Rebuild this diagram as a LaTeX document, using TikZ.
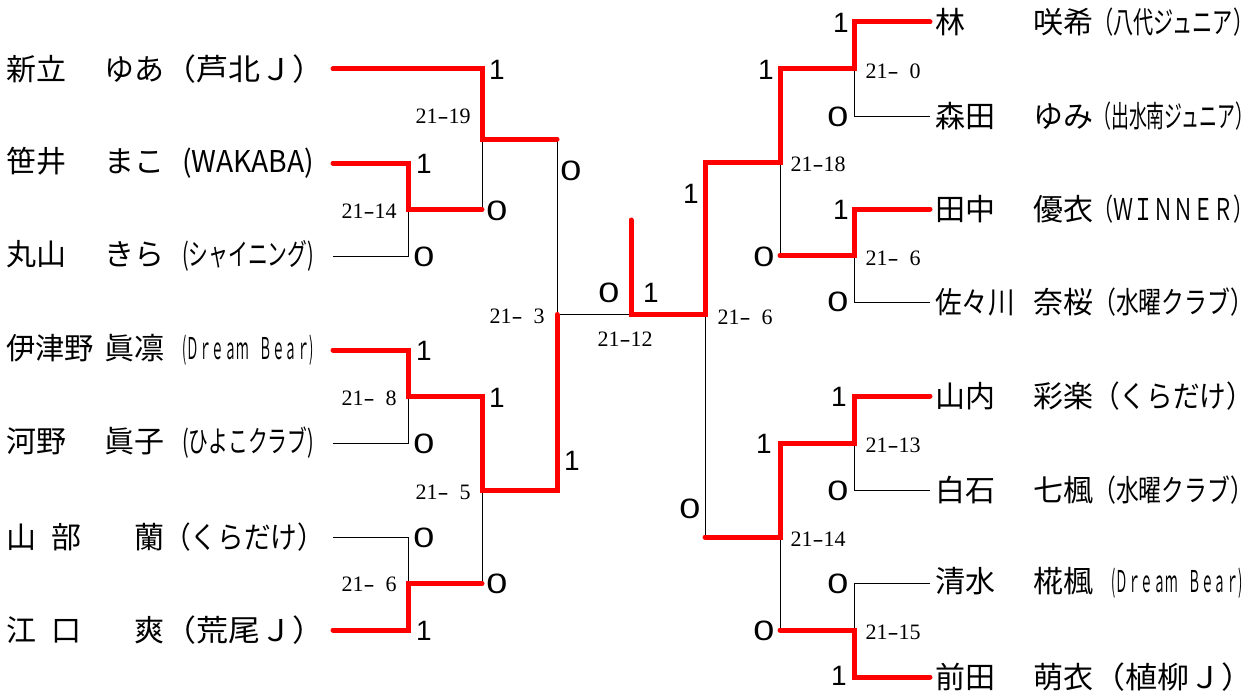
\documentclass[tikz,border=0pt]{standalone}
\usepackage{fontspec}
\usepackage{graphicx}
\newfontfamily\jp{Noto Sans CJK JP}
\newfontfamily\digf{Liberation Sans}
\newfontfamily\scf{Liberation Serif}
% player name: surname, given name, club (full-width parentheses)
\newcommand{\pn}[3]{\makebox[98pt][l]{#1}\makebox[60pt][r]{#2}\resizebox{160pt}{\height}{#3}}
% player name with half-width parenthesised club
\newcommand{\pnh}[3]{\makebox[98pt][l]{#1}\makebox[60pt][r]{#2}\hspace{18pt}\resizebox{132pt}{\height}{#3}}
\newcommand{\sco}[1]{21\makebox[11pt]{\scalebox{1.5}[1]{-}}\makebox[22pt][r]{#1}}
\newcommand{\zr}{\scalebox{1.35}[1]{0}}
\newcommand{\narrow}[2]{\resizebox{#1}{\height}{#2}}
\tikzset{
  win/.style={draw=red, line width=5pt, line cap=round, line join=miter},
  lose/.style={draw=black, line width=1pt},
  pname/.style={anchor=west, inner sep=0pt, font=\jp\fontsize{30}{30}\selectfont},
  pts/.style={inner sep=0pt, font=\digf\fontsize{28}{28}\selectfont},
  slab/.style={inner sep=0pt, font=\scf\fontsize{22}{22}\selectfont},
}
\begin{document}
\begin{tikzpicture}[x=1pt,y=-1pt]
\fill[white] (0,0) rectangle (1256,693);
\useasboundingbox (0,0) rectangle (1256,693);

% ---------- players, left ----------
\node[pname] (L1) at (6,69)  {\pn{新立}{ゆあ}{（芦北Ｊ）}};
\node[pname] (L2) at (6,163) {\pnh{笹井}{まこ}{(WAKABA)}};
\node[pname] (L3) at (6,256) {\pnh{丸山}{きら}{(シャイニング)}};
\node[pname] (L4) at (6,350) {\pnh{\narrow{88pt}{伊津野}}{眞凛}{(Ｄｒｅａｍ\hspace{0.8em}Ｂｅａｒ)}};
\node[pname] (L5) at (6,443) {\pnh{河野}{眞子}{(ひよこクラブ)}};
\node[pname] (L6) at (6,537) {\pn{山\hspace{15pt}部}{蘭}{（くらだけ）}};
\node[pname] (L7) at (6,630) {\pn{江\hspace{15pt}口}{爽}{（荒尾Ｊ）}};

% ---------- players, right ----------
\node[pname] (R1) at (935,22)  {\pn{林}{咲希}{（八代ジュニア）}};
\node[pname] (R2) at (935,116) {\pn{森田}{ゆみ}{（出水南ジュニア）}};
\node[pname] (R3) at (935,209) {\pn{田中}{優衣}{（ＷＩＮＮＥＲ）}};
\node[pname] (R4) at (935,302) {\pn{\narrow{80pt}{佐々川}}{奈桜}{（水曜クラブ）}};
\node[pname] (R5) at (935,396) {\pn{山内}{彩楽}{（くらだけ）}};
\node[pname] (R6) at (935,490) {\pn{白石}{七楓}{（水曜クラブ）}};
\node[pname] (R7) at (935,583) {\pnh{清水}{椛楓}{(Ｄｒｅａｍ\hspace{0.8em}Ｂｅａｒ)}};
\node[pname] (R8) at (935,677) {\pn{前田}{萌衣}{（植柳Ｊ）}};

% ---------- line ends and junctions ----------
\coordinate (s1) at (333,69);
\coordinate (s2) at (333,163);
\coordinate (s3) at (333,256);
\coordinate (s4) at (333,350);
\coordinate (s5) at (333,443);
\coordinate (s6) at (333,537);
\coordinate (s7) at (333,630);
\coordinate (j23) at (408,209.5);
\coordinate (j45) at (408,396.5);
\coordinate (j67) at (408,583.5);
\coordinate (j123) at (482,139);
\coordinate (j4567) at (482,490);
\coordinate (jl) at (557,314.5);
\coordinate (c) at (631,314.5);
\coordinate (ctop) at (631,220);
\coordinate (jr) at (705,314.5);
\foreach \i in {1,...,8} { \coordinate (e\i) at ([xshift=-5pt]R\i.west); }
\coordinate (k12) at (854,69);
\coordinate (k34) at (854,255.5);
\coordinate (k56) at (854,443);
\coordinate (k78) at (854,630);
\coordinate (k1234) at (780,162);
\coordinate (k5678) at (780,537);

% ---------- losing (thin) lines ----------
\draw[lose] (s3) -| (j23);
\draw[lose] (j123) -- (j123 |- j23);
\draw[lose] (s5) -| (j45);
\draw[lose] (s6) -| (j67);
\draw[lose] (j4567) -- (j4567 |- j67);
\draw[lose] (j123 -| jl) -- (jl) -- (c);
\draw[lose] (k12) -- (k12 |- e2) -- (e2);
\draw[lose] (k1234) -- (k1234 |- k34);
\draw[lose] (k34) -- (k34 |- e4) -- (e4);
\draw[lose] (jr) -- (jr |- k5678);
\draw[lose] (k56) -- (k56 |- e6) -- (e6);
\draw[lose] (k5678) -- (k5678 |- k78);
\draw[lose] (k78) -- (k78 |- e7) -- (e7);

% ---------- winning (red) lines ----------
\draw[win] (s1) -| (j123) -- (j123 -| jl);
\draw[win] (s2) -| (j23) -- (j23 -| j123);
\draw[win] (s4) -| (j45) -- (j45 -| j4567) -- (j4567) -- (j4567 -| jl) -- (jl);
\draw[win] (s7) -| (j67) -- (j67 -| j4567);
\draw[win] (ctop) -- (c) -- (jr) -- (jr |- k1234) -- (k1234) -- (k1234 |- k12) -- (k12) -- (k12 |- e1) -- (e1);
\draw[win] (e3) -- (e3 -| k34) -- (k34) -- (k34 -| k1234);
\draw[win] (e5) -- (e5 -| k56) -- (k56) -- (k56 -| k5678) -- (k5678) -- (k5678 -| jr);
\draw[win] (e8) -- (e8 -| k78) -- (k78) -- (k78 -| k5678);

% ---------- game scores, left ----------
\node[pts] (g1) at (497,70) {1};
\node[pts] (g2) at (424,164) {1};
\node[pts] (g3) at (424,257) {\zr};
\node[pts] (g4) at (497,211) {\zr};
\node[pts] (g5) at (571,171) {\zr};
\node[pts] (g6) at (424,351) {1};
\node[pts] (g7) at (424,444) {\zr};
\node[pts] (g8) at (497,398) {1};
\node[pts] (g9) at (572,461) {1};
\node[pts] (g10) at (424,538) {\zr};
\node[pts] (g11) at (497,584) {\zr};
\node[pts] (g12) at (424,631) {1};
\node[pts] (g13) at (609,293) {\zr};
\node[pts] (g14) at (651,293) {1};
% ---------- game scores, right ----------
\node[pts] (h1) at (691,194) {1};
\node[pts] (h2) at (766,70) {1};
\node[pts] (h3) at (841,23) {1};
\node[pts] (h4) at (838,117) {\zr};
\node[pts] (h5) at (841,210) {1};
\node[pts] (h6) at (764,257) {\zr};
\node[pts] (h7) at (838,302) {\zr};
\node[pts] (h8) at (839,397) {1};
\node[pts] (h9) at (764,444) {1};
\node[pts] (h10) at (838,491) {\zr};
\node[pts] (h11) at (690,509) {\zr};
\node[pts] (h12) at (838,584) {\zr};
\node[pts] (h13) at (764,631) {\zr};
\node[pts] (h14) at (839,676) {1};

% ---------- match scores ----------
\node[slab] (m1) at (443,116) {\sco{19}};
\node[slab] (m2) at (369,211) {\sco{14}};
\node[slab] (m3) at (369,398) {\sco{8}};
\node[slab] (m4) at (443,492) {\sco{5}};
\node[slab] (m5) at (369,584) {\sco{6}};
\node[slab] (m6) at (517,316) {\sco{3}};
\node[slab] (m7) at (625,339) {\sco{12}};
\node[slab] (m8) at (893,71) {\sco{0}};
\node[slab] (m9) at (818,164) {\sco{18}};
\node[slab] (m10) at (893,258) {\sco{6}};
\node[slab] (m11) at (745,317) {\sco{6}};
\node[slab] (m12) at (893,445) {\sco{13}};
\node[slab] (m13) at (818,539) {\sco{14}};
\node[slab] (m14) at (893,632) {\sco{15}};
\end{tikzpicture}
\end{document}
